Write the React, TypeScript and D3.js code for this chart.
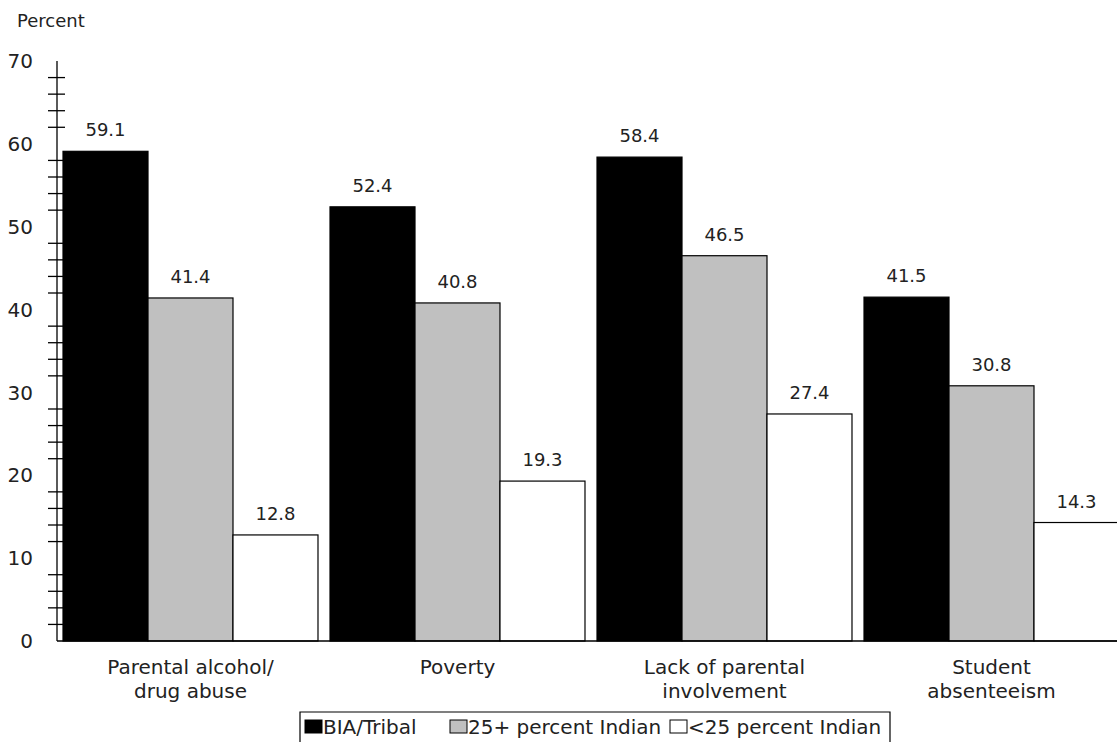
import React from "react";
import * as d3 from "d3";

const categories = [
  ["Parental alcohol/", "drug abuse"],
  ["Poverty"],
  ["Lack of parental", "involvement"],
  ["Student", "absenteeism"],
];
const seriesNames = ["BIA/Tribal", "25+ percent Indian", "<25 percent Indian"];
const seriesColors = ["#000000", "#c0c0c0", "#ffffff"];
const biaTribal = [59.1, 52.4, 58.4, 41.5];
const pct25Plus = [41.4, 40.8, 46.5, 30.8];
const pctUnder25 = [12.8, 19.3, 27.4, 14.3];
const yTickLabels = [0, 10, 20, 30, 40, 50, 60, 70];

const W = 1117;
const H = 742;
const FONT = "'DejaVu Sans', sans-serif";

export default function App() {
  const series = [biaTribal, pct25Plus, pctUnder25];
  const axisX = 57;
  const y = d3.scaleLinear().domain([0, 70]).range([641, 61]);
  const x0 = d3
    .scaleBand<number>()
    .domain(d3.range(categories.length))
    .range([axisX, 1125])
    .paddingInner(0.045)
    .paddingOuter(0.0225);
  const x1 = d3
    .scaleBand<number>()
    .domain(d3.range(series.length))
    .range([0, x0.bandwidth()]);

  const minorTicks = d3.range(0, 70.001, 2).filter((v) => v % 10 !== 0);

  const legendItems = [
    { sx: 305, tx: 323 },
    { sx: 450, tx: 468 },
    { sx: 670, tx: 688 },
  ];

  return (
    <svg
      width={W}
      height={H}
      style={{ position: "absolute", left: 0, top: 0, background: "#fff" }}
      fontFamily={FONT}
    >
      <rect x={0} y={0} width={W} height={H} fill="#fff" />
      <text x={17} y={27} fontSize={18} fill="#222">
        Percent
      </text>

      {/* bars */}
      {categories.map((_, ci) =>
        series.map((s, si) => {
          const bx = (x0(ci) as number) + (x1(si) as number);
          const by = y(s[ci]);
          return (
            <g key={`${ci}-${si}`}>
              <rect
                x={bx}
                y={by}
                width={x1.bandwidth()}
                height={y(0) - by}
                fill={seriesColors[si]}
                stroke="#000"
                strokeWidth={1.2}
              />
              <text
                x={bx + x1.bandwidth() / 2}
                y={by - 15}
                textAnchor="middle"
                fontSize={18}
                fill="#222"
              >
                {s[ci].toFixed(1)}
              </text>
            </g>
          );
        })
      )}

      {/* y axis */}
      <line x1={axisX} x2={axisX} y1={y(70)} y2={y(0)} stroke="#000" strokeWidth={1.3} />
      {minorTicks.map((t) => (
        <line key={t} x1={48} x2={65} y1={y(t)} y2={y(t)} stroke="#000" strokeWidth={1.3} />
      ))}
      {yTickLabels.map((t) => (
        <text
          key={t}
          x={33}
          y={y(t)}
          dy="0.36em"
          textAnchor="end"
          fontSize={20}
          fill="#222"
        >
          {t}
        </text>
      ))}
      {/* x axis baseline */}
      <line x1={axisX} x2={W} y1={y(0)} y2={y(0)} stroke="#000" strokeWidth={1.3} />

      {/* category labels */}
      {categories.map((lines, ci) => (
        <text
          key={ci}
          x={(x0(ci) as number) + x0.bandwidth() / 2}
          y={674}
          textAnchor="middle"
          fontSize={20}
          fill="#222"
        >
          {lines.map((l, li) => (
            <tspan key={li} x={(x0(ci) as number) + x0.bandwidth() / 2} dy={li === 0 ? 0 : 24}>
              {l}
            </tspan>
          ))}
        </text>
      ))}

      {/* legend */}
      <path d="M300,745 V712 H890 V745" fill="none" stroke="#000" strokeWidth={1.2} />
      {seriesNames.map((n, i) => (
        <g key={n}>
          <rect
            x={legendItems[i].sx}
            y={720}
            width={17}
            height={13}
            fill={seriesColors[i]}
            stroke="#000"
            strokeWidth={1}
          />
          <text x={legendItems[i].tx} y={734} fontSize={20} fill="#222">
            {n}
          </text>
        </g>
      ))}
    </svg>
  );
}
